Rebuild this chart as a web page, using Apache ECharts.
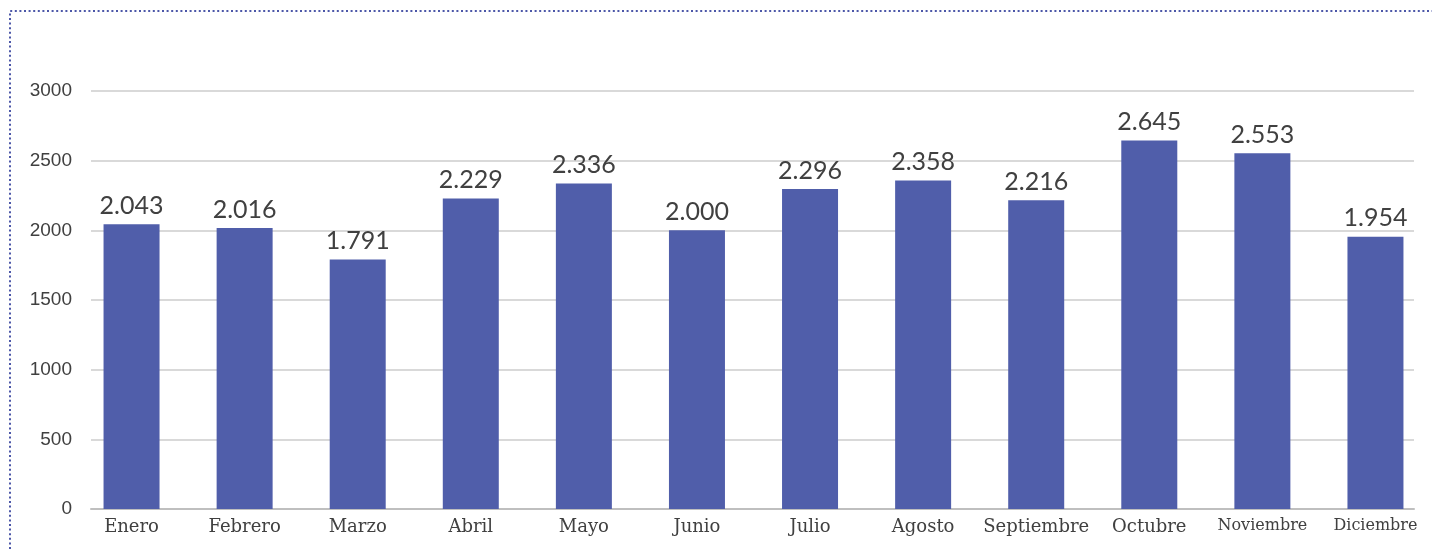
<!DOCTYPE html>
<html>
<head>
<meta charset="utf-8">
<script src="https://cdn.jsdelivr.net/npm/echarts@6/dist/echarts.min.js"></script>
<style>
  html, body { margin: 0; padding: 0; background: #fff; }
  #chart-panel { width: 1432px; height: 549px; }
</style>
</head>
<body>
<div id="chart-panel"></div>
<script>
const months = ['Enero', 'Febrero', 'Marzo', 'Abril', 'Mayo', 'Junio', 'Julio',
  'Agosto', 'Septiembre', 'Octubre', 'Noviembre', 'Diciembre'];
const values = [2043, 2016, 1791, 2229, 2336, 2000, 2296, 2358, 2216, 2645, 2553, 1954];
const yTicks = { min: 0, max: 3000, interval: 500 };
// the last two month names are set smaller in the original
const smallLabels = ['Noviembre', 'Diciembre'];

function miles(v) {
  return String(v).replace(/\B(?=(\d{3})+(?!\d))/g, '.');
}

var myChart = echarts.init(document.getElementById('chart-panel'));

const monthData = months.map(function (m) {
  if (smallLabels.indexOf(m) >= 0) {
    return { value: m, textStyle: { fontSize: 16 } };
  }
  return m;
});

myChart.setOption({
  animation: false,
  graphic: [
    {
      type: 'polyline',
      shape: { points: [[10, 549], [10, 11], [1432, 11]] },
      style: { stroke: '#4c57a8', lineWidth: 2, lineDash: [2, 2.6], fill: null }
    }
  ],
  grid: [
    { left: 91, right: 18, top: 91, bottom: 40 },
    { left: 75, right: -12, top: 91, bottom: 40 }
  ],
  xAxis: [
    {
      gridIndex: 0,
      type: 'category',
      data: months,
      axisLine: { lineStyle: { color: '#bfbfbf', width: 2 } },
      axisTick: { show: false },
      axisLabel: { show: false }
    },
    {
      gridIndex: 1,
      type: 'category',
      data: monthData,
      axisLine: { show: false },
      axisTick: { show: false },
      axisLabel: {
        interval: 0,
        margin: 9,
        color: '#404040',
        fontSize: 18,
        fontFamily: 'DejaVu Serif'
      }
    }
  ],
  yAxis: [
    {
      gridIndex: 0,
      type: 'value',
      min: yTicks.min,
      max: yTicks.max,
      interval: yTicks.interval,
      axisLine: { show: false },
      axisTick: { show: false },
      axisLabel: {
        margin: 19,
        color: '#404040',
        fontSize: 19,
        fontFamily: 'Liberation Sans',
        formatter: function (v) { return String(v); }
      },
      splitLine: { lineStyle: { color: '#d9d9d9', width: 2 } }
    },
    {
      gridIndex: 1,
      type: 'value',
      min: yTicks.min,
      max: yTicks.max,
      show: false
    }
  ],
  series: [
    {
      name: 'Meses',
      type: 'bar',
      xAxisIndex: 1,
      yAxisIndex: 1,
      data: values,
      barWidth: 56,
      itemStyle: { color: '#505eaa' },
      label: {
        show: true,
        position: 'top',
        distance: 6,
        color: '#404040',
        fontSize: 25,
        fontFamily: 'Lato',
        formatter: function (p) { return miles(p.value); }
      }
    }
  ]
});
</script>
</body>
</html>
